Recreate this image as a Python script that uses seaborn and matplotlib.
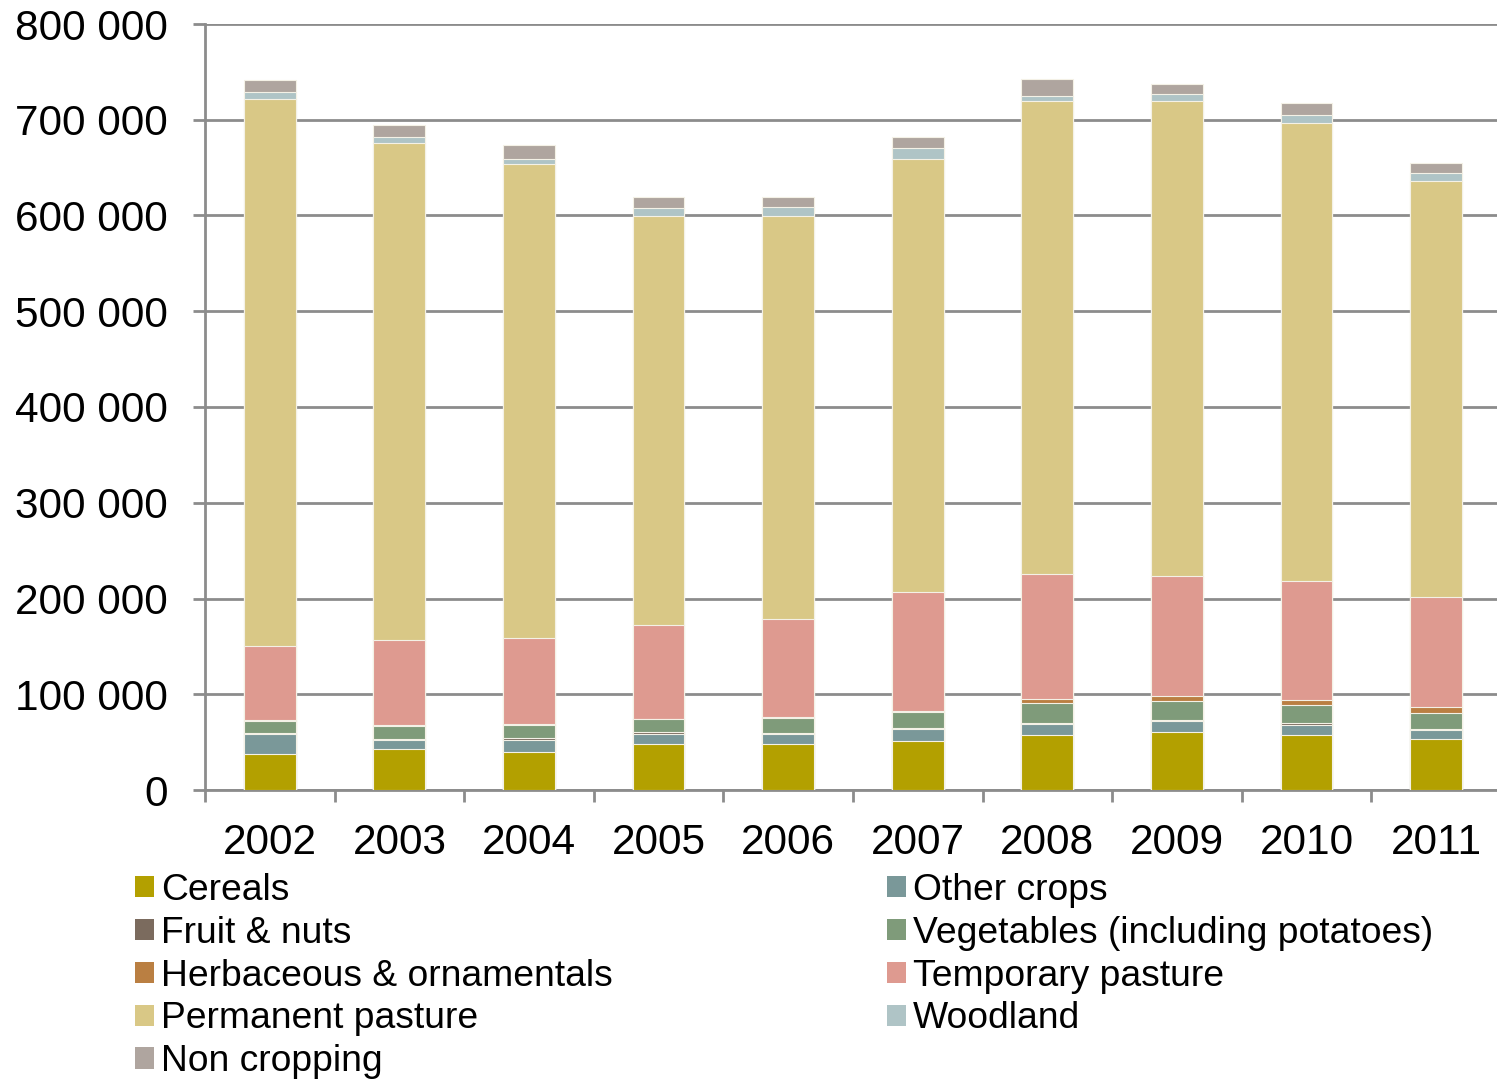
import numpy as np
import pandas as pd
import matplotlib
matplotlib.use("Agg")
import matplotlib.pyplot as plt
from matplotlib.patches import Patch
from matplotlib.ticker import FuncFormatter, MultipleLocator, FixedLocator
import seaborn as sns

# Agricultural land use by year (hectares)
years = ["2002", "2003", "2004", "2005", "2006", "2007", "2008", "2009", "2010", "2011"]

cereals = [37300, 42500, 39400, 48000, 47700, 51500, 57400, 60200, 57100, 52900]
other_crops = [21200, 9700, 13200, 10800, 10400, 12200, 11500, 11900, 10800, 9800]
fruit_nuts = [1500, 1500, 1500, 1500, 1500, 1500, 1500, 1500, 2000, 1400]
vegetables = [12500, 13500, 14100, 13900, 15900, 16600, 20100, 19000, 18500, 16000]
herbaceous = [400, 400, 400, 400, 400, 400, 4900, 5900, 5900, 6300]
temporary_pasture = [77000, 89400, 90400, 98100, 102400, 124900, 129900, 125300, 124300, 115500]
permanent_pasture = [572100, 519000, 494500, 427100, 421500, 451600, 493900, 495400, 478400, 434100]
woodland = [7000, 5600, 5500, 7700, 9100, 11500, 5600, 7700, 8000, 8400]
non_cropping = [12000, 12400, 14600, 11800, 10400, 11400, 17800, 10800, 12500, 10700]

series_names = [
    "Cereals", "Other crops", "Fruit & nuts", "Vegetables (including potatoes)",
    "Herbaceous & ornamentals", "Temporary pasture", "Permanent pasture",
    "Woodland", "Non cropping",
]
series_values = [
    cereals, other_crops, fruit_nuts, vegetables, herbaceous,
    temporary_pasture, permanent_pasture, woodland, non_cropping,
]
series_colors = [
    "#b3a000", "#7a9899", "#7b6b5e", "#7f9b7a", "#ba7f42",
    "#de9a90", "#d9c886", "#afc4c6", "#afa59f",
]

df = pd.DataFrame({name: vals for name, vals in zip(series_names, series_values)})
df.insert(0, "Year", years)
cum = df[series_names].cumsum(axis=1)
cum["Year"] = years

sns.set_theme(style="white")
plt.rcParams["font.family"] = ["Liberation Sans", "DejaVu Sans"]
plt.rcParams["text.color"] = "black"

fig = plt.figure(figsize=(14.97, 10.8), dpi=100)
ax = fig.add_axes([205 / 1497, 1 - 790 / 1080, 1 - 205 / 1497, (790 - 24) / 1080])

# Stacked bars: draw cumulative totals from the top layer down
for name, color in reversed(list(zip(series_names, series_colors))):
    sns.barplot(data=cum, x="Year", y=name, color=color, width=0.4,
                edgecolor="#f4f1e6", linewidth=0.8, saturation=1,
                ax=ax, zorder=3)

grid_color = "#8c8c8c"
ax.set_ylim(0, 800000)
ax.set_xlim(-0.5, 9.47)
ax.yaxis.set_major_locator(MultipleLocator(100000))
ax.yaxis.set_major_formatter(FuncFormatter(lambda v, p: f"{int(v):,}".replace(",", " ")))
ax.grid(axis="y", color=grid_color, linewidth=2, zorder=0)
ax.set_axisbelow(True)

for side in ["top", "right"]:
    ax.spines[side].set_visible(False)
for side in ["left", "bottom"]:
    ax.spines[side].set_color(grid_color)
    ax.spines[side].set_linewidth(2)

ax.set_xlabel("")
ax.set_ylabel("")
ax.xaxis.set_minor_locator(FixedLocator(np.arange(-0.5, 9.5, 1.0)))
ax.tick_params(axis="x", which="major", length=0, pad=23.5, labelsize=30.5, labelcolor="black")
ax.tick_params(axis="x", which="minor", length=8.6, width=2, color=grid_color, direction="out", bottom=True)
ax.tick_params(axis="y", which="major", length=8.6, width=2, color=grid_color, pad=18,
               labelsize=30.5, labelcolor="black", left=True)

handles = [Patch(facecolor=c, edgecolor="none", label=n) for n, c in zip(series_names, series_colors)]
col1 = handles[0::2]
col2 = handles[1::2]
legend_kw = dict(loc="upper left", frameon=False, fontsize=26.8, borderpad=0,
                 handlelength=0.5, handleheight=0.5, handletextpad=0.2,
                 labelspacing=0.21, borderaxespad=0, labelcolor="black")
fig.legend(handles=col1, bbox_to_anchor=(135 / 1497, 1 - 873 / 1080), **legend_kw)
fig.legend(handles=col2, bbox_to_anchor=(887 / 1497, 1 - 873 / 1080), **legend_kw)

fig.savefig("out.png", dpi=100)
